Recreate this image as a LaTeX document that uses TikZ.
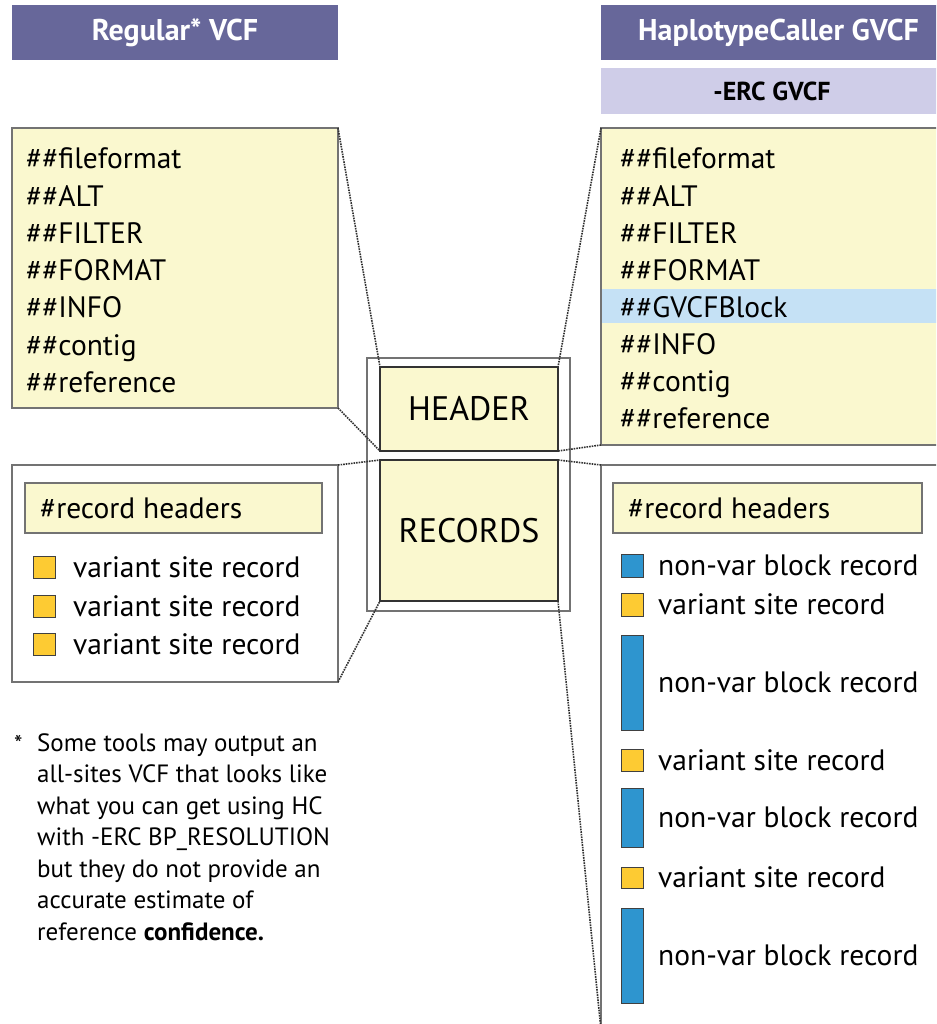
\documentclass[tikz,border=0pt]{standalone}
\usepackage{fontspec}
\setmainfont{PT Sans}
\usepackage{tikz}
\definecolor{T}{RGB}{103,103,154}
\definecolor{S}{RGB}{207,205,232}
\definecolor{P}{RGB}{250,248,207}
\definecolor{G}{RGB}{197,225,245}
\definecolor{Y}{RGB}{253,203,51}
\definecolor{B}{RGB}{46,149,207}
\definecolor{E}{RGB}{115,115,115}
\newcommand{\sz}[1]{\fontsize{#1}{#1}\selectfont}
\tikzset{
  box/.style={draw=E, line width=1.5pt, inner sep=0pt, outer sep=0pt, anchor=north west},
  ttl/.style={box, draw=none, fill=T, text=white, font=\bfseries\sz{30}},
  listtxt/.style={anchor=base west, inner sep=0pt, font=\sz{29.5}},
  chip/.style={draw=black!75, line width=1pt, inner sep=0pt, minimum width=22, anchor=north west},
  dots/.style={densely dotted, line width=1.6pt, black!80}
}
\begin{document}
\begin{tikzpicture}[x=1pt,y=-1pt]
\useasboundingbox (0,0) rectangle (936,1024);
\clip (0,0) rectangle (936,1024);
% titles
\node[ttl, minimum width=326, minimum height=55] (tl) at (12,5) {Regular* VCF};
\node[ttl, minimum width=355, minimum height=55] (tr) at (601,5) {HaplotypeCaller GVCF};
\node[ttl, fill=S, text=black, font=\bfseries\sz{26}, minimum width=342, minimum height=46] (erc) at (601,68) {-ERC GVCF};
% header boxes
\node[box, fill=P, minimum width=326, minimum height=280] (lhead) at (12,128) {};
\foreach \t [count=\i] in {fileformat,ALT,FILTER,FORMAT,INFO,contig,reference}
  \node[listtxt] (lh\i) at (26,{159+10+37.2*(\i-1)}) {\#\#\t};
\node[box, fill=P, minimum width=400, minimum height=317] (rhead) at (601,128) {};
\node[box, draw=none, fill=G, minimum width=400, minimum height=34] (blk) at (602,289) {};
\foreach \t [count=\i] in {fileformat,ALT,FILTER,FORMAT,GVCFBlock,INFO,contig,reference}
  \node[listtxt] (rh\i) at (620,{159+10+37.1*(\i-1)}) {\#\#\t};
% middle
\node[box, minimum width=203, minimum height=253] (frame) at (367,358) {};
\node[box, draw=black!80, fill=P, font=\sz{34}, minimum width=178, minimum height=84] (hdr) at (380,367) {HEADER};
\node[box, draw=black!80, fill=P, font=\sz{34}, minimum width=178, minimum height=141] (recs) at (380,460) {RECORDS};
% record boxes
\node[box, minimum width=326, minimum height=217] (lrec) at (12,465) {};
\node[box, fill=P, minimum width=297, minimum height=50] (lrh) at (25,483) {};
\node[listtxt] at (40,518) {\#record headers};
\foreach \y [count=\i] in {556,595,633}{
  \node[chip, fill=Y, minimum height=22] (lv\i) at (33,\y) {};
  \node[listtxt] at (73,\y+21) {variant site record};
}
\node[box, minimum width=400, minimum height=565] (rrec) at (601,465) {};
\node[box, fill=P, minimum width=309, minimum height=50] (rrh) at (613,483) {};
\node[listtxt] at (628,518) {\#record headers};
\foreach \c/\t/\b/\s [count=\i] in {B/554/577/non-var block record, Y/593/616/variant site record, B/635/730/non-var block record, Y/749/771/variant site record, B/788/847/non-var block record, Y/867/888/variant site record, B/908/1003/non-var block record}{
  \node[chip, fill=\c, minimum height={\b-\t}] (rv\i) at (621,\t) {};
  \node[listtxt] at (658,{(\t+\b)/2+10}) {\s};
}
% zoom lines
\draw[dots] (lhead.north east) -- (hdr.north west);
\draw[dots] (lhead.south east) -- (hdr.south west);
\draw[dots] (lrec.north east) -- (recs.north west);
\draw[dots] (lrec.south east) -- (recs.south west);
\draw[dots] (rhead.north west) -- (hdr.north east);
\draw[dots] (rhead.south west) -- (hdr.south east);
\draw[dots] (rrec.north west) -- (recs.north east);
\draw[dots] (recs.south east) -- (rrec.south west);
% footnote
\node[anchor=base west, inner sep=0pt, font=\sz{24}] (star) at (14,752) {*};
\foreach \t [count=\i] in {Some tools may output an, all-sites VCF that looks like, what you can get using HC, with -ERC BP\_RESOLUTION, but they do not provide an, accurate estimate of, reference \textbf{confidence.}}
  \node[anchor=base west, inner sep=0pt, font=\sz{25}] (fn\i) at (37,{751+31.5*(\i-1)}) {\t};
\end{tikzpicture}
\end{document}
